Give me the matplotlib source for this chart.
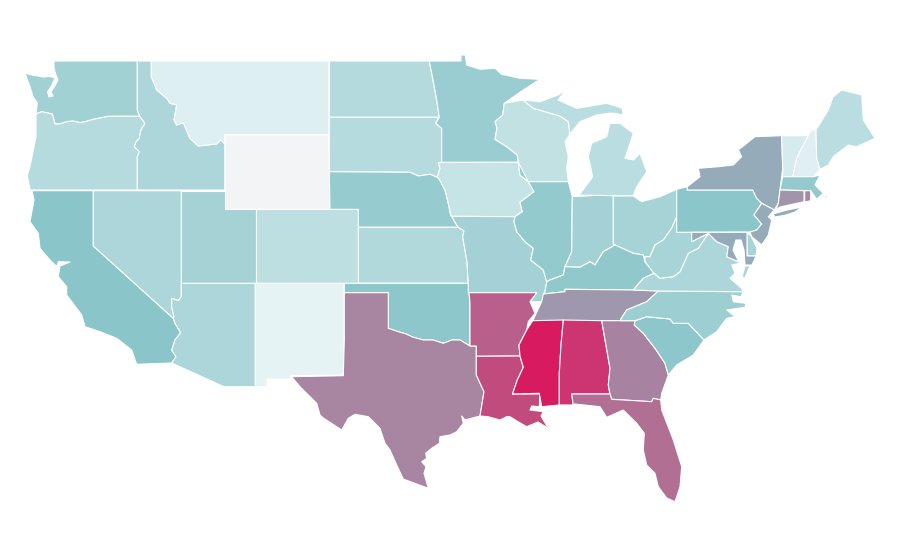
import matplotlib
matplotlib.use("Agg")
import matplotlib.pyplot as plt
from matplotlib.colors import LinearSegmentedColormap, Normalize
from matplotlib.patches import Polygon

VALUES = {
    "WA": 32, "OR": 24.7, "CA": 40, "ID": 28.5, "NV": 27.8, "UT": 31, "AZ": 28.5, "MT": 11,
    "WY": 0, "CO": 22, "NM": 8, "ND": 25.4, "SD": 24.7, "NE": 35.8, "KS": 26.4, "OK": 39,
    "TX": 62.5, "MN": 34.4, "IA": 19.5, "MO": 31.6, "AR": 75.4, "LA": 83, "WI": 21, "IL": 37,
    "MI": 23.7, "IN": 31.3, "OH": 30.7, "KY": 37.7, "TN": 56, "MS": 100, "AL": 91, "GA": 63,
    "FL": 70, "SC": 39, "NC": 33.6, "VA": 28, "WV": 30, "PA": 39.5, "NY": 49, "VT": 14,
    "NH": 10.5, "ME": 23.7, "MA": 36.5, "CT": 57, "RI": 62, "NJ": 49, "DE": 30, "MD": 49,
}
STOPS = [0, 8, 40, 100]
STOP_COLORS = ["#f3f4f6", "#e6f3f5", "#8ac5c9", "#d81b60"]

# ---- shared borders (map units) ----
wa_or = [(139.7,116.3),(125,116.3),(108.7,116.3),(100,118),(93.3,119.3),(86,121.5),(80,122.7),(73,121),(66.7,121.7),(60,124),(55,124),(52.3,114),(41.7,111.7),(36,114)]
or_id = [(137.3,190),(137.3,156.7),(139.3,151.7),(134.3,146.7),(136,142),(139.3,138.3),(141,130),(145,123.3),(139.7,116.3)]
id_mt = [(151.3,61),(151.3,76.7),(156.7,90),(166.7,98.3),(170,103.3),(176.7,105),(174,120),(176.7,125),(183.3,122.7),(190,138.3),(198.3,146),(216.7,144),(220.7,140),(225,144)]
ca_nv = [(93.3,190.7),(93.3,246),(173.3,318.3)]
nv_az = [(181.3,283.3),(181.3,296.7),(178.3,300.7),(171.7,298.3),(171.7,306.7),(174,317.3),(173.3,318.3)]
ca_az = [(173.3,318.3),(175,323.3),(180.7,332.7),(175,340),(171.7,350),(176,356.7),(171.7,363)]
red_river = [(388.3,328.3),(398.3,331.7),(406,334),(413.3,337.3),(423.3,340),(433,340),(443.3,343.3),(452,340),(460,340),(470,346)]
ne_ia = [(437.3,177.3),(439.3,179.3),(445,190),(448.3,203.3),(450.7,215),(456.7,225),(458.3,227.3)]
sd_ia = [(438.3,162.5),(440,168.3),(437.3,177.3)]
mn_wi = [(504.3,103.3),(502.7,115),(495,121.7),(497,128),(495,139.3),(506.7,146.7),(517.3,155),(518.3,162.3)]
ia_il = [(518.3,162.3),(520,175),(528.3,181.7),(534,191.7),(520,202.3),(522.3,211.7),(515,216.7)]
mo_il = [(515,216.7),(514,221.7),(516.7,231.7),(525,241.7),(533.3,248.3),(530.7,260),(543.3,270),(546.7,281.7)]
ks_mo = [(458.3,227.3),(464,230.7),(462.7,236.7),(467,262),(468.3,283.3)]
ms_river_ar = [(530,301.7),(535,313.3),(528.3,321.7),(526.7,330),(519,345),(520,356)]
ms_river_la = [(520,356),(523.3,367.3),(517.3,380),(512.5,394)]
la_tx = [(476.3,346),(476.3,375),(484,391.7),(480,416)]
al_ms = [(563.3,320),(561,345),(559.3,373.3),(559.3,405)]
al_ga = [(601.7,320.7),(610,368.3),(608.3,385),(610,394)]
fl_north = [(571.7,394),(610,394),(611.7,399.3),(651.7,401.7),(653.3,398.3),(660.7,400)]
ga_sc = [(635,320.7),(634.3,325),(643.3,333.3),(655,348.3),(665,363.3),(668.3,375)]
sc_north = [(635,320.7),(646.7,316.7),(670,319),(673.3,323.3),(688.3,323.3),(704,340)]
tn_nc = [(658.3,291),(646.7,301.7),(626.7,310),(620.7,319.3),(620.7,320.7)]
ky_south = [(543.3,294),(565,291.7),(565,289.3),(633.3,290),(658.3,291)]
ky_north = [(546.7,281.7),(550,280),(563.3,275),(565,266.7),(580,267.3),(590,261.7),(595,265),(603.3,251.7),(615,245),(633.3,253.3),(643.3,255),(645,261.7),(654,273.3)]
wv_va = [(654,273.3),(660,278.3),(673.3,276.7),(680,271.7),(688.3,253.3),(698.3,248.3),(708.3,233.3)]
oh_wv = [(676.7,216.7),(671.7,228.3),(663.3,240),(655,245),(650,256.7),(645,256.7),(645,261.7)]
md_va = [(708.3,233.3),(716.7,241.7),(728.3,246.7),(726.7,256.7),(738.3,261.7)]
pa_east = [(752.7,190),(756.7,198.3),(761.7,203.3),(754,215),(761.7,224),(756.7,230),(750,232)]
ny_nj = [(761.7,203.3),(774.3,210)]

# ---- state outlines (map units) ----
OUTLINES = {
    "WA": [[(54,61),(137.3,61),(137.3,110)] + wa_or + [(37.3,103),(33,96.7),(30,86.7),(25,73.3),(32,75),(43.3,77),(50,76.5),(55,78),(52,85),(47.5,92),(49,97),(53,96),(51,92),(56,84),(58,80),(56,75),(54,68)]],
    "OR": [wa_or[::-1] + or_id[::-1] + [(30,190),(27.3,175),(30,166.7),(33.3,150),(36,136.7)]],
    "CA": [[(32,190.7)] + ca_nv + ca_az[1:] + [(136.7,364.3),(131.7,350),(116.7,338.3),(100,331.7),(85,326.7),(81.7,315),(66.7,295),(66.7,286.7),(58.3,276.7),(60,266),(70,262),(58.3,261.7),(56.7,266.7),(50,260),(40,248.3),(38.3,233.3),(30,221.7),(34,200)]],
    "ID": [[(137.3,61)] + id_mt + [(225,190)] + or_id + [(137.3,110)]],
    "NV": [ca_nv + nv_az[::-1] + [(181.3,190.7)]],
    "MT": [id_mt + [(225,135),(329,135),(329,61)]],
    "WY": [[(225,135),(329,135),(330,209.3),(225,209.3)]],
    "UT": [[(181.3,190.5),(225,190.5),(225,209.3),(255.5,209.3),(255.5,283.3),(181.3,283.3)]],
    "CO": [[(255.5,209.3),(358.3,209.3),(358.3,283.3),(255.5,283.3)]],
    "AZ": [nv_az + ca_az[1:] + [(224,386.7),(255.3,386.7),(255.3,283.3)]],
    "NM": [[(255.3,283.3),(344.3,283.3),(344.3,343),(343.3,375),(290.7,375.7),(290,379),(267,379),(267,386.7),(255.3,386.7)]],
    "ND": [[(329.3,61),(429.3,61),(433.3,81.7),(436.7,100),(439.3,117.3),(329.3,117.3)]],
    "SD": [[(329.3,117.3),(439.3,117.3),(435.7,123.3),(441.7,128.3),(441.7,162.5)] + sd_ia + [(430,174.3),(418.3,176),(410,172.3),(329.3,171.7)]],
    "NE": [[(329.3,171.7),(410,172.3),(418.3,176),(430,174.3)] + ne_ia + [(358.3,227.3),(358.3,209.3),(330,209.3)]],
    "KS": [[(358.3,227.3)] + ks_mo + [(358.3,283.3)]],
    "OK": [[(344.3,283.3),(468.3,283.3),(470,303.3)] + red_river[::-1] + [(388.3,292.7),(344.3,292.7)]],
    "TX": [[(344.3,292.7),(388.3,292.7)] + red_river + la_tx + [(465,420),(461.7,416),(463.3,423.3),(456.7,431.7),(450,435),(440,436.7),(439.3,443.3),(431.7,448.3),(425.7,453.3),(426.7,458.3),(421.7,461.7),(426,466.7),(424,473.3),(428.3,488.3),(416.7,484),(403.3,479),(396.7,465),(390,450),(385,443.3),(380,428.3),(368.3,416.7),(355,414.3),(348.3,418.3),(341.7,430),(323.3,418),(320,415),(316.7,403.3),(300,386.7),(291.7,376.7),(343.3,375.7),(344.3,340)]],
    "MN": [[(429.3,61),(461,61),(461,55),(465.3,55),(466.7,65),(480,69.3),(495,68.3),(501.7,74.3),(520,78.3),(540,79.3),(523.3,90)] + mn_wi + [(441.7,162.3),(441.7,128.3),(435.7,123.3),(439.3,117.3),(436.7,100),(433.3,81.7)]],
    "IA": [sd_ia + ne_ia[1:5] + [(451.7,216.3),(515,216.7)] + ia_il[::-1][1:]],
    "MO": [[(456.7,225),(451.7,216.3)] + mo_il + [(545,291.7),(541.7,301.7),(530,301.7),(536.7,292.7),(468.3,292.7)] + ks_mo[::-1]],
    "AR": [[(469,292.7),(536.7,292.7)] + ms_river_ar + [(476.3,356.3),(476.3,346),(470,346),(470,303)]],
    "LA": [[(476.3,356.3),(520,356)] + ms_river_la[1:] + [(540,394),(539.3,406.7),(531.7,406),(530,410),(543.3,411.7),(541,416),(548.3,428.3),(538,422),(526.7,426.7),(518,421.7),(510,416.7),(506.7,416.7),(500,420),(488,416.7),(480,416)] + la_tx[1:-1][::-1]],
    "WI": [mn_wi + [(520,175),(528.3,181.7),(568.3,181.7),(566.7,168),(568.3,156.7),(565,141.7),(570,134),(568.3,121.7),(560,116),(533.3,108.3),(523,100)]],
    "IL": [ia_il + mo_il[1:] + [(550,280),(563.3,275),(565,266.7),(571.7,251.7),(572.3,196.7),(568.3,181.7),(528.3,181.7)]],
    "IN": [[(572.3,196.7),(613.3,194.5),(613.3,244),(615,245),(603.3,251.7),(595,265),(590,261.7),(580,267.3),(565,266.7),(571.7,251.7)]],
    "MI": [[(576.7,195),(580,194),(592.7,176.7),(588.3,156.7),(591.7,143.3),(606.7,136.7),(610,123.3),(620,123.3),(633.3,133.3),(625,158.3),(633.3,160),(640,153.3),(646.7,171.7),(636.7,186.7),(633.3,196)],
           [(533.3,108.3),(523,100),(540,101.7),(558,95),(566,90),(558,100),(576.7,108.3),(606.7,103.3),(622,108),(623.3,115),(612,113),(596.7,115),(580,121.7),(570,134),(568.3,121.7),(560,116)]],
    "OH": [[(613.3,196),(633.3,196),(641.7,201.7),(660,196.7),(676.7,189.3)] + oh_wv + [(643.3,255),(633.3,253.3),(615,245),(613.3,244)]],
    "KY": [ky_south[:-1] + [(643.3,278.3),(654,273.3)] + ky_north[::-1][1:] + [(545,291.7)]],
    "TN": [[(532.7,320.7),(541.7,301.7)] + ky_south + tn_nc[1:]],
    "MS": [[(532.7,320.7)] + al_ms + [(541.7,406.7),(539.3,393.3),(512.5,394)] + ms_river_la[::-1][1:] + ms_river_ar[::-1][1:3]],
    "AL": [al_ms + [(573.3,405),(571.7,394)] + al_ga[::-1]],
    "GA": [al_ga + [(611.7,399.3),(651.7,401.7),(653.3,398.3),(660.7,400),(661.7,393.3)] + ga_sc[::-1]],
    "FL": [fl_north + [(661.7,410),(673.3,440),(681.7,466.7),(680,486.7),(675,501.7),(666.7,498),(658.3,486.7),(655,473.3),(646.7,465),(643.3,450),(644.3,433.3),(636.7,423.3),(623.3,410),(606.7,417.3),(600,406.7),(575,404),(573.3,405)]],
    "SC": [sc_north + [(693.3,355),(676.7,365)] + ga_sc[::-1][:-1]],
    "NC": [tn_nc + [(635,320.7)] + sc_north[1:] + [(716.7,331.7),(726.7,318.3),(735,316.7),(726.7,310),(745,307.3),(746,303.3),(733.3,301.7),(731.7,295),(740.7,296.7),(743.3,291.7)]],
    "VA": [[(633.3,290),(643.3,278.3)] + wv_va + md_va[1:] + [(740,263.3),(731.7,265),(735,273.3),(730,278.3),(741.7,288.3),(743.3,291.7),(658.3,291)],
           [(750,266),(745,278),(742,277),(745,266)]],
    "WV": [oh_wv + wv_va + [(691.7,241.7),(691.7,232.3),(676.7,232.3)]],
    "PA": [[(676.7,189.3),(687.3,186.7),(687.3,190)] + pa_east + [(676.7,232.3)]],
    "NY": [[(687.3,186.7),(700,176.7),(698.3,168.3),(718.3,166.7),(733.3,165),(741.7,156.7),(738.3,150),(755,136.7),(781.7,135.7),(782.7,168.3),(780,190),(778.3,203.3),(774.3,210),(761.7,203.3),(756.7,198.3),(752.7,190),(687.3,190)],
           [(773,214),(785,210.5),(802,207),(795,212),(786,215),(775,217)]],
    "VT": [[(781.7,135.7),(808.3,135.7),(801.7,148.3),(796.7,158.3),(792.7,176.7),(782.7,176.7),(782.7,168.3)]],
    "NH": [[(808.3,135.7),(810.7,130),(816,130),(816.7,158.3),(820,169.3),(813.3,176.7),(792.7,176.7),(796.7,158.3),(801.7,148.3)]],
    "ME": [[(816,130),(828.3,110),(833,97),(841.7,90),(861.7,95),(863.3,120),(875,138.3),(856.7,146.7),(848.3,145),(833.3,156.7),(828.3,165),(820,169.3),(816.7,158.3)]],
    "MA": [[(782.7,176.7),(813.3,176.7),(820,175),(815,185),(823.3,193.3),(816.7,199.3),(810.7,190.7),(780,190)],
           [(822,197),(830,195),(826,198)]],
    "CT": [[(780,190),(804,190.7),(804,201.7),(780,207),(776,210),(778.3,203.3)]],
    "RI": [[(804.7,190.7),(810.7,190.7),(810.7,200.7),(804.7,202)]],
    "NJ": [ny_nj + [(768.3,216.7),(771.7,220),(768.3,235),(761.7,245),(751.7,236.7)] + pa_east[::-1][:4]],
    "DE": [[(747,232.5),(751,236),(757,248),(756,256),(747,256)]],
    "MD": [[(691.7,232.3),(747,232.3),(747,256),(756,256),(752,265),(745,265),(744,250),(741,240),(736,240),(733,250),(737,258)] + md_va[::-1] + [(691.7,241.7)]],
}

cmap = LinearSegmentedColormap.from_list(
    "rate", [(s / STOPS[-1], c) for s, c in zip(STOPS, STOP_COLORS)])
norm = Normalize(STOPS[0], STOPS[-1])

fig = plt.figure(figsize=(9, 5.6), dpi=100, facecolor="white")
ax = fig.add_axes([0, 0, 1, 1])
ax.set_xlim(0, 900)
ax.set_ylim(560, 0)
ax.axis("off")

for state, rings in OUTLINES.items():
    color = cmap(norm(VALUES[state]))
    for ring in rings:
        ax.add_patch(Polygon(ring, closed=True, facecolor=color, edgecolor="white",
                             linewidth=0.8, joinstyle="round", label=state))

fig.savefig("out.png", dpi=100, facecolor="white")
